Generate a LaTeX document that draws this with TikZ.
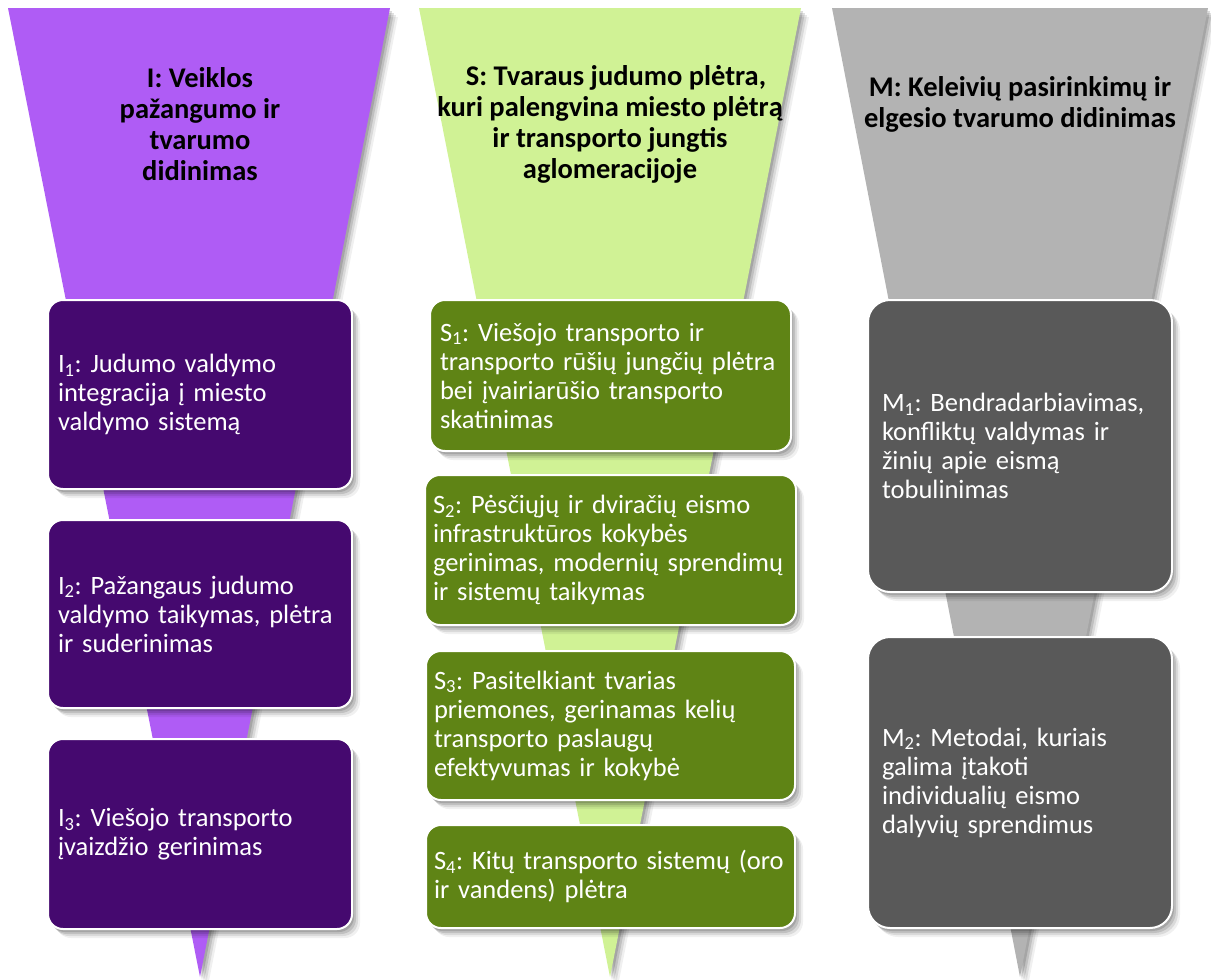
\documentclass[tikz,border=0pt]{standalone}
\usepackage{fontspec}
\setmainfont{Carlito}
\usetikzlibrary{shadows}
\definecolor{ilight}{HTML}{AF5CF5}
\definecolor{idark}{HTML}{45096F}
\definecolor{slight}{HTML}{D0F295}
\definecolor{sdark}{HTML}{5F8415}
\definecolor{mlight}{HTML}{B3B3B3}
\definecolor{mdark}{HTML}{595959}
\frenchspacing
\tikzset{
  softshadow/.style={
    general shadow={shadow xshift=2pt, shadow yshift=-3pt, opacity=0.14, fill=black},
    general shadow={shadow xshift=4pt, shadow yshift=-5pt, opacity=0.12, fill=black},
    general shadow={shadow xshift=6pt, shadow yshift=-7pt, opacity=0.09, fill=black},
    general shadow={shadow xshift=8pt, shadow yshift=-9pt, opacity=0.06, fill=black}},
  funnel/.style={draw=none, softshadow},
  ttl/.style={font=\bfseries\fontsize{28.5}{31}\selectfont, align=center, text=black, inner sep=0pt},
  box/.style={draw=white, line width=2pt, rounded corners=15pt, text=white, align=left,
    font=\fontsize{26.5}{29}\selectfont, inner ysep=0pt, softshadow},
}
\begin{document}
\begin{tikzpicture}[x=1pt,y=-1pt]
\useasboundingbox (0,0) rectangle (1211,980);
% funnels
\fill[ilight, funnel] (8,8) coordinate (ia) -- (390,8) -- (200,977) coordinate (ib) -- cycle;
\fill[slight, funnel] (419,8) coordinate (sa) -- (801,8) -- (610,977) coordinate (sb) -- cycle;
\fill[mlight, funnel] (832,8) coordinate (ma) -- (1208,8) -- (1020,977) coordinate (mb) -- cycle;
% titles
\node[ttl] (it) at (200,124) {I: Veiklos\\pažangumo ir\\tvarumo\\didinimas};
\node[ttl] (st) at (610,124) {\hspace*{12pt}S: Tvaraus judumo plėtra,\\kuri palengvina miesto plėtrą\\ir transporto jungtis\\aglomeracijoje};
\node[ttl] (mt) at (1020,104) {M: Keleivių pasirinkimų ir\\elgesio tvarumo didinimas};
% I boxes
\node[box, fill=idark, text width=284pt, inner xsep=10pt, minimum height=189pt] (i1) at (200,394.5)
  {I\textsubscript{1}: Judumo valdymo\\integracija į miesto\\valdymo sistemą};
\node[box, fill=idark, text width=284pt, inner xsep=10pt, minimum height=188pt] (i2) at (200,614)
  {I\textsubscript{2}: Pažangaus judumo\\valdymo taikymas, plėtra\\ir suderinimas};
\node[box, fill=idark, text width=284pt, inner xsep=10pt, minimum height=190pt] (i3) at (200,834)
  {I\textsubscript{3}: Viešojo transporto\\įvaizdžio gerinimas};
% S boxes
\node[box, fill=sdark, text width=341pt, inner xsep=10pt, minimum height=151pt] (s1) at (610.5,375.5)
  {S\textsubscript{1}: Viešojo transporto ir\\transporto rūšių jungčių plėtra\\bei įvairiarūšio transporto\\skatinimas};
\node[box, fill=sdark, text width=355pt, inner xsep=8pt, minimum height=150pt] (s2) at (610.5,550)
  {S\textsubscript{2}: Pėsčiųjų ir dviračių eismo\\infrastruktūros kokybės\\gerinimas, modernių sprendimų\\ir sistemų taikymas};
\node[box, fill=sdark, text width=353pt, inner xsep=8pt, minimum height=149pt] (s3) at (610.5,725.5)
  {S\textsubscript{3}: Pasitelkiant tvarias\\priemones, gerinamas kelių\\transporto paslaugų\\efektyvumas ir kokybė};
\node[box, fill=sdark, text width=353pt, inner xsep=8pt, minimum height=103pt] (s4) at (610.5,876.5)
  {S\textsubscript{4}: Kitų transporto sistemų (oro\\ir vandens) plėtra};
% M boxes
\node[box, fill=mdark, rounded corners=22pt, text width=276pt, inner xsep=14pt, minimum height=292pt] (m1) at (1020,446)
  {M\textsubscript{1}: Bendradarbiavimas,\\konfliktų valdymas ir\\žinių apie eismą\\tobulinimas};
\node[box, fill=mdark, rounded corners=22pt, text width=276pt, inner xsep=14pt, minimum height=291pt] (m2) at (1020,782.5)
  {M\textsubscript{2}: Metodai, kuriais\\galima įtakoti\\individualių eismo\\dalyvių sprendimus};
\end{tikzpicture}
\end{document}
